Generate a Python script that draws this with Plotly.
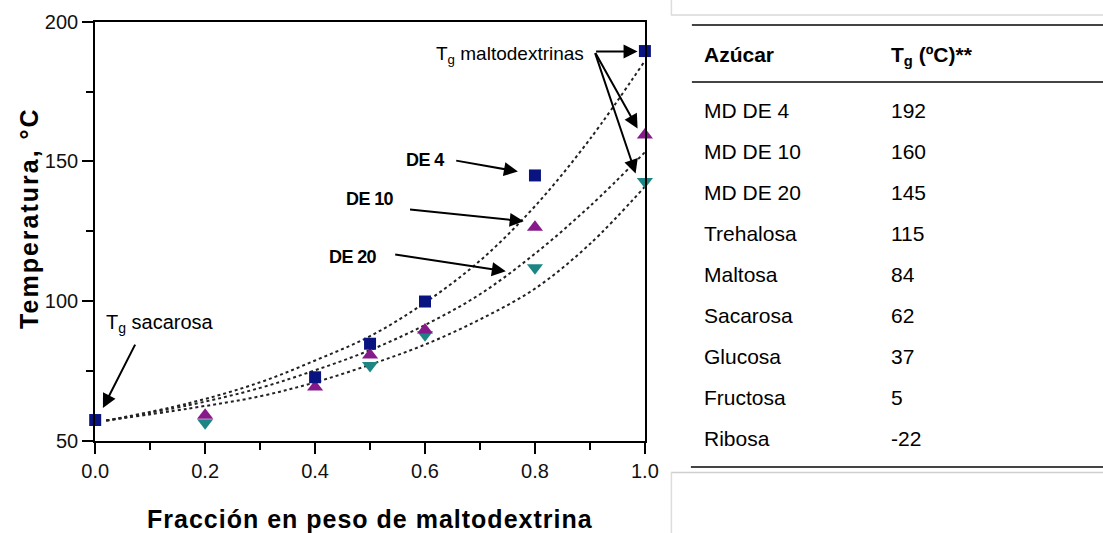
import plotly.graph_objects as go

W, H = 1103, 533

# Measured glass-transition temperatures (°C) vs maltodextrin weight fraction
x_de4 = [0.0, 0.4, 0.5, 0.6, 0.8, 1.0]
tg_de4 = [57.5, 72.8, 84.8, 99.9, 145.0, 189.5]
x_de10 = [0.2, 0.4, 0.5, 0.6, 0.8, 1.0]
tg_de10 = [59.2, 69.3, 80.8, 89.7, 126.5, 159.5]
x_de20 = [0.2, 0.5, 0.6, 0.8, 1.0]
tg_de20 = [56.5, 77.0, 88.0, 112.0, 142.8]

# Fitted curves (dotted)
fit_x = [0.02, 0.17, 0.30, 0.40, 0.50, 0.60, 0.70, 0.80, 0.90, 1.0]
fit_de4 = [57.3, 63.5, 71.0, 78.8, 87.5, 99.5, 114.5, 134.0, 158.0, 186.0]
fit_de10 = [57.3, 62.8, 69.0, 75.3, 82.5, 91.5, 102.5, 117.0, 134.0, 153.3]
fit_de20 = [57.3, 61.6, 66.0, 71.0, 77.3, 84.5, 93.5, 104.5, 120.5, 141.0]

# Reference table of sugar Tg values
sugars = ["MD DE 4", "MD DE 10", "MD DE 20", "Trehalosa", "Maltosa",
          "Sacarosa", "Glucosa", "Fructosa", "Ribosa"]
sugar_tg = ["192", "160", "145", "115", "84", "62", "37", "5", "-22"]

NAVY = "#0a1480"
PURPLE = "#861a8a"
TEAL = "#1e8585"
FONT = "Liberation Sans, Arial, sans-serif"

# Page-pixel -> paper coordinate helpers (paper area spans x 13..1088, y 11..522)
PX0, PW = 13.1, 1075.0
PY0, PH = 11.0, 511.0

def px_x(p):
    return (p - PX0) / PW

def px_y(p):
    return 1 - (p - PY0) / PH

fig = go.Figure()

for fy in [fit_de4, fit_de10, fit_de20]:
    fig.add_trace(go.Scatter(
        x=fit_x, y=fy, mode="lines",
        line=dict(color="#222222", width=2, dash="dot", shape="spline", smoothing=1.0),
        hoverinfo="skip", showlegend=False))

fig.add_trace(go.Scatter(
    x=x_de20, y=tg_de20, mode="markers", name="DE 20",
    marker=dict(symbol="triangle-down", size=14, color=TEAL), cliponaxis=False))
fig.add_trace(go.Scatter(
    x=x_de10, y=tg_de10, mode="markers", name="DE 10",
    marker=dict(symbol="triangle-up", size=14, color=PURPLE), cliponaxis=False))
fig.add_trace(go.Scatter(
    x=x_de4, y=tg_de4, mode="markers", name="DE 4",
    marker=dict(symbol="square", size=12, color=NAVY), cliponaxis=False))

axis_common = dict(
    showline=True, linecolor="black", linewidth=2, mirror=True,
    ticks="outside", ticklen=11, tickwidth=2, tickcolor="black",
    showgrid=False, zeroline=False,
    tickfont=dict(family=FONT, size=20, color="#111111"),
)

fig.update_xaxes(
    range=[0, 1.0], dtick=0.2, tick0=0, tickformat=".1f",
    minor=dict(ticks="outside", ticklen=7, tickwidth=2, tickcolor="black", dtick=0.1),
    domain=[px_x(94.3), px_x(644)], **axis_common)
fig.update_yaxes(
    range=[50, 200], dtick=50, tick0=50,
    minor=dict(ticks="outside", ticklen=7, tickwidth=2, tickcolor="black", dtick=25),
    domain=[px_y(441), px_y(21.7)], **axis_common)

ann = []

# Axis titles
ann.append(dict(
    text="<b><span style='letter-spacing:1px'>Fracción en peso de maltodextrina</span></b>",
    xref="paper", yref="paper", x=px_x(369.5), y=px_y(519),
    xanchor="center", yanchor="middle", showarrow=False,
    font=dict(family=FONT, size=25, color="black")))
ann.append(dict(
    text="<b><span style='letter-spacing:2px'>Temperatura, °C</span></b>",
    xref="paper", yref="paper", x=px_x(28), y=px_y(218),
    xanchor="center", yanchor="middle", showarrow=False, textangle=-90,
    font=dict(family=FONT, size=25, color="black")))

# Curve labels
label_font = dict(family=FONT, size=18, color="black")
for txt, xr, yc in [("DE 4", 0.6376, 150.7), ("DE 10", 0.5467, 136.4), ("DE 20", 0.5158, 115.7)]:
    ann.append(dict(text="<b><span style='letter-spacing:-0.6px'>" + txt + "</span></b>",
                    x=xr, y=yc, xref="x", yref="y", xanchor="right", yanchor="middle",
                    showarrow=False, font=label_font))

ann.append(dict(text="T<sub>g</sub> maltodextrinas", x=0.8925, y=188.0, xref="x", yref="y",
                xanchor="right", yanchor="middle", showarrow=False,
                font=dict(family=FONT, size=19, color="black")))
ann.append(dict(text="T<sub>g</sub> sacarosa", x=0.016, y=92.0, xref="x", yref="y",
                xanchor="left", yanchor="middle", showarrow=False,
                font=dict(family=FONT, size=20, color="black")))

# Arrows (tail -> head, in data units)
arrows = [
    ((0.9085, 189.3), (0.9867, 189.3)),
    ((0.9085, 189.3), (0.9867, 161.8)),
    ((0.9085, 189.3), (0.9831, 145.7)),
    ((0.654, 150.4), (0.769, 146.4)),
    ((0.570, 132.9), (0.7795, 128.6)),
    ((0.543, 116.8), (0.747, 110.7)),
    ((0.074, 85.0), (0.014, 61.8)),
]
for (tx, ty), (hx, hy) in arrows:
    ann.append(dict(x=hx, y=hy, ax=tx, ay=ty, xref="x", yref="y", axref="x", ayref="y",
                    text="", showarrow=True, arrowhead=2, arrowsize=1.4, arrowwidth=2,
                    arrowcolor="black", standoff=0, startstandoff=0))

# Table on the right
col1, col2 = 701, 888
tfont = dict(family=FONT, size=21, color="black")
ann.append(dict(text="<b>Azúcar</b>", xref="paper", yref="paper", x=px_x(col1), y=px_y(54),
                xanchor="left", yanchor="middle", showarrow=False, font=tfont))
ann.append(dict(text="<b>T<sub>g</sub> (ºC)**</b>", xref="paper", yref="paper", x=px_x(col2), y=px_y(56),
                xanchor="left", yanchor="middle", showarrow=False, font=tfont))
row0, step = 110, 41.1
for i, (name, val) in enumerate(zip(sugars, sugar_tg)):
    yy = row0 + i * step
    ann.append(dict(text=name, xref="paper", yref="paper", x=px_x(col1), y=px_y(yy),
                    xanchor="left", yanchor="middle", showarrow=False, font=tfont))
    ann.append(dict(text=val, xref="paper", yref="paper", x=px_x(col2), y=px_y(yy),
                    xanchor="left", yanchor="middle", showarrow=False, font=tfont))

shapes = []
def hline(y, x0, x1, color, width):
    shapes.append(dict(type="line", xref="paper", yref="paper",
                       x0=px_x(x0), x1=px_x(x1), y0=px_y(y), y1=px_y(y),
                       line=dict(color=color, width=width)))
def vline(x, y0, y1, color, width):
    shapes.append(dict(type="line", xref="paper", yref="paper",
                       x0=px_x(x), x1=px_x(x), y0=px_y(y0), y1=px_y(y1),
                       line=dict(color=color, width=width)))

hline(25, 691, 1103, "#444444", 2)
hline(82, 691, 1103, "#444444", 2)
hline(467, 690, 1103, "#444444", 2)
hline(15, 670, 1103, "#d8d8d8", 1.5)
hline(472.5, 670, 1103, "#cfcfcf", 1.5)
vline(670.5, 0, 15, "#dddddd", 1.5)
vline(670.5, 472.5, 533, "#dddddd", 1.5)

fig.update_layout(
    width=W, height=H,
    margin=dict(l=0, r=0, t=0, b=0),
    paper_bgcolor="white", plot_bgcolor="white",
    showlegend=False,
    annotations=ann, shapes=shapes,
    font=dict(family=FONT),
)

fig.write_html(
    "out.html",
    post_script="document.body.style.margin='0';document.body.style.overflow='hidden';",
)
